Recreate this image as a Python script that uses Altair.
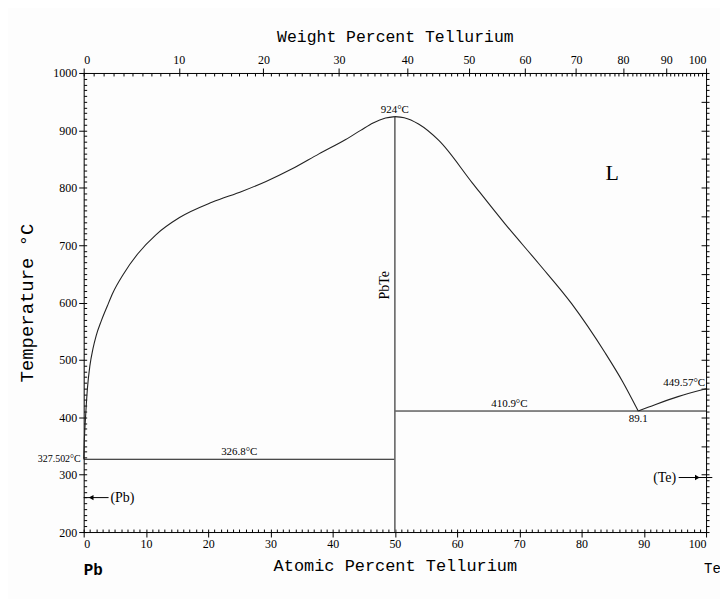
import altair as alt
import pandas as pd

# ---------------- data ----------------
# Pb-side liquidus (atomic % Te, temperature °C)
liq_pb_x = [0, 0.1, 0.3, 0.6, 1.0, 1.5, 2.0, 2.83, 3.8, 4.7, 6.3, 8.7, 11.6, 15.4, 20.7, 25.5, 29.3, 33.5, 37.8, 42.1, 44.5, 46.5, 48.5, 50]
liq_pb_t = [327.502, 360, 400, 450, 490, 520, 542, 568, 594, 617, 648, 685, 718, 748, 775, 794, 811, 833, 859, 884, 900, 913, 921.5, 924]
# PbTe to eutectic liquidus
liq_te_x = [50, 51.5, 53.8, 57.1, 62.4, 67.7, 73.1, 78.4, 83.8, 86.6, 89.1]
liq_te_t = [924, 922, 911, 882, 809, 737, 668, 598, 512, 462, 410.9]
# eutectic to Te melting point
liq_e_x = [89.1, 91.8, 95.5, 100]
liq_e_t = [410.9, 422, 436, 449.57]

# invariant lines
h_x1 = [0, 50]
h_x2 = [50, 100]
h_t = [326.8, 410.9]
v_x = [50]
v_t1 = [200]
v_t2 = [924]

# tick labels
at_ticks = list(range(0, 101, 10))
at_minor = list(range(0, 101, 1))
wt_ticks = list(range(0, 101, 10))
wt_minor = list(range(0, 101, 1))
t_ticks = list(range(200, 1001, 100))
t_minor = list(range(200, 1001, 10))
t_right_major = list(range(200, 1001, 50))

# annotations
lab_cb_text = ["924°C", "326.8°C", "410.9°C"]
lab_cb_x = [50, 25, 68.4]
lab_cb_t = [924, 326.8, 410.9]

PB_MASS, TE_MASS = 207.2, 127.6


def wt_to_at(w):
    a = w / TE_MASS
    b = (100 - w) / PB_MASS
    return 100 * a / (a + b)


W, H = 625, 461
xs = alt.Scale(domain=[0, 100], nice=False, zero=False)
ys = alt.Scale(domain=[200, 1000], nice=False, zero=False)

LBL = dict(labelFont="Liberation Serif", labelFontSize=12, labelColor="black",
           tickColor="black", domainColor="black", grid=False)
TTL = dict(titleFont="Liberation Mono", titleFontWeight="normal", titleColor="black")

x_bottom = alt.Axis(orient="bottom", values=at_ticks, tickSize=5, labelPadding=2, format="d",
                    title="Atomic Percent Tellurium", titlePadding=8, titleFontSize=17,
                    **LBL, **TTL)
x_bottom_minor = alt.Axis(orient="bottom", values=at_minor, tickSize=3, labels=False,
                          domain=False, offset=-3, title="", grid=False, tickColor="black")
x_top = alt.Axis(orient="top", values=[wt_to_at(w) for w in wt_ticks], tickSize=5,
                 labelPadding=2,
                 labelExpr="format(100*datum.value*127.6/(datum.value*127.6+(100-datum.value)*207.2), '.0f')",
                 title="Weight Percent Tellurium", titlePadding=9, titleFontSize=16.5,
                 **LBL, **TTL)
x_top_minor = alt.Axis(orient="top", values=[wt_to_at(w) for w in wt_minor], tickSize=3,
                       labels=False, domain=False, offset=-3, title="", grid=False,
                       tickColor="black")
y_left = alt.Axis(orient="left", values=t_ticks, tickSize=5, labelPadding=2, format="d",
                  title="Temperature °C", titlePadding=16, titleFontSize=19,
                  **LBL, **TTL)
y_left_minor = alt.Axis(orient="left", values=t_minor, tickSize=3, labels=False,
                        domain=False, offset=-3, title="", grid=False, tickColor="black")
y_right = alt.Axis(orient="right", values=t_minor, tickSize=3, labels=False,
                   domain=True, domainColor="black", title="", grid=False, tickColor="black")
y_right_major = alt.Axis(orient="right", values=t_right_major, tickSize=5, labels=False,
                         domain=False, offset=-5, title="", grid=False, tickColor="black")

dummy = pd.DataFrame({"x": [0], "t": [200]})


def axis_layer(xa, ya):
    return alt.Chart(dummy).mark_point(opacity=0).encode(
        x=alt.X("x:Q", scale=xs, axis=xa),
        y=alt.Y("t:Q", scale=ys, axis=ya),
    )


def curve(xv, tv):
    df = pd.DataFrame({"x": xv, "t": tv, "o": list(range(len(xv)))})
    return alt.Chart(df).mark_line(color="#222", strokeWidth=1.1, interpolate="monotone").encode(
        x=alt.X("x:Q", scale=xs, axis=None),
        y=alt.Y("t:Q", scale=ys, axis=None),
        order="o:Q",
    )


hdf = pd.DataFrame({"x": h_x1, "x2": h_x2, "t": h_t})
hlines = alt.Chart(hdf).mark_rule(color="#111", strokeWidth=1).encode(
    x=alt.X("x:Q", scale=xs, axis=None), x2="x2:Q",
    y=alt.Y("t:Q", scale=ys, axis=None))

vdf = pd.DataFrame({"x": v_x, "t": v_t1, "t2": v_t2})
vline = alt.Chart(vdf).mark_rule(color="#666", strokeWidth=1.6).encode(
    x=alt.X("x:Q", scale=xs, axis=None),
    y=alt.Y("t:Q", scale=ys, axis=None), y2="t2:Q")


def texts(txt, xv, tv, **mk):
    df = pd.DataFrame({"label": txt, "x": xv, "t": tv})
    return alt.Chart(df).mark_text(color="black", **mk).encode(
        x=alt.X("x:Q", scale=xs, axis=None),
        y=alt.Y("t:Q", scale=ys, axis=None),
        text="label:N")


SERIF = "Liberation Serif"
t_cb = texts(lab_cb_text, lab_cb_x, lab_cb_t, font=SERIF, fontSize=11,
             align="center", baseline="bottom", dy=-2)
t_eut = texts(["89.1"], [89.1], [410.9], font=SERIF, fontSize=11,
              align="center", baseline="top", dy=2)
t_te_mp = texts(["449.57°C"], [100], [449.57], font=SERIF, fontSize=11,
                align="right", baseline="bottom", dy=-1, dx=-1)
t_pb_mp = texts(["327.502°C"], [0], [327.502], font=SERIF, fontSize=10,
                align="right", baseline="middle", dx=-3)
t_pbte = texts(["PbTe"], [50], [630], font=SERIF, fontSize=14, angle=270,
               align="center", baseline="bottom", dy=-3)
t_L = texts(["L"], [84.9], [826], font=SERIF, fontSize=22,
            align="center", baseline="middle")
t_pb_phase = texts(["(Pb)"], [4.3], [260], font=SERIF, fontSize=14,
                   align="left", baseline="middle")
t_te_phase = texts(["(Te)"], [95.2], [295], font=SERIF, fontSize=14,
                   align="right", baseline="middle")
t_pb_el = texts(["Pb"], [0], [200], font="Liberation Mono", fontSize=16,
                fontWeight="bold", align="left", baseline="top", dy=30)
t_te_el = texts(["Te"], [100], [200], font="Liberation Mono", fontSize=14,
                align="left", baseline="top", dy=30, dx=-2)

adf = pd.DataFrame({"x": [0, 95.6], "x2": [4.0, 101.0], "t": [260, 295]})
arrows = alt.Chart(adf).mark_rule(color="black", strokeWidth=1).encode(
    x=alt.X("x:Q", scale=xs, axis=None), x2="x2:Q",
    y=alt.Y("t:Q", scale=ys, axis=None))
hdf2 = pd.DataFrame({"x": [1.2, 98.6], "t": [260, 295],
                     "s": ["triangle-left", "triangle-right"]})
heads = alt.Chart(hdf2).mark_point(filled=True, color="black", size=30, opacity=1).encode(
    x=alt.X("x:Q", scale=xs, axis=None),
    y=alt.Y("t:Q", scale=ys, axis=None),
    shape=alt.Shape("s:N", scale=alt.Scale(domain=["triangle-left", "triangle-right"],
                                           range=["triangle-left", "triangle-right"]),
                    legend=None))

chart = alt.layer(
    axis_layer(x_bottom, y_left),
    axis_layer(x_bottom_minor, y_left_minor),
    axis_layer(x_top, y_right),
    axis_layer(x_top_minor, y_right_major),
    hlines, vline,
    curve(liq_pb_x, liq_pb_t), curve(liq_te_x, liq_te_t), curve(liq_e_x, liq_e_t),
    arrows, heads,
    t_cb, t_eut, t_te_mp, t_pb_mp, t_pbte, t_L, t_pb_phase, t_te_phase, t_pb_el, t_te_el,
).resolve_axis(x="independent", y="independent").properties(
    width=W, height=H,
    autosize=alt.AutoSizeParams(type="none"),
    padding={"left": 76, "top": 64, "right": 14, "bottom": 66},
    background="#fdfdfd",
).configure_view(strokeWidth=0)

chart.save("out.html", embed_options={"renderer": "svg", "actions": False})
